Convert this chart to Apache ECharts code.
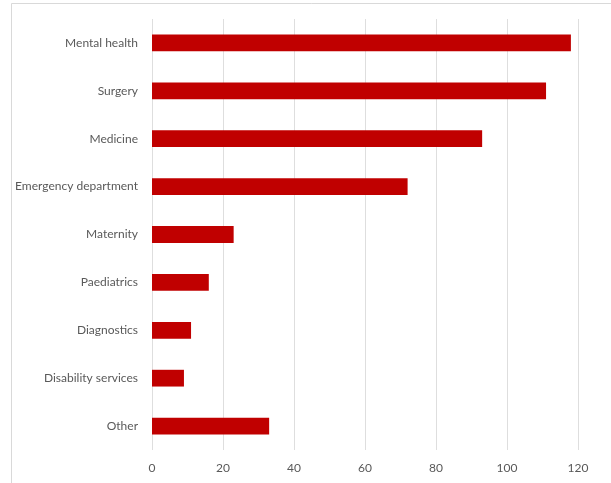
<!DOCTYPE html>
<html>
<head>
<meta charset="utf-8">
<script src="https://cdn.jsdelivr.net/npm/echarts@6/dist/echarts.min.js"></script>
<style>
  html, body { margin: 0; padding: 0; background: #ffffff; }
  #chart { width: 611px; height: 483px; }
</style>
</head>
<body>
<div id="chart"></div>
<script>
// Service areas, listed top to bottom
const categories = [
  'Mental health',
  'Surgery',
  'Medicine',
  'Emergency department',
  'Maternity',
  'Paediatrics',
  'Diagnostics',
  'Disability services',
  'Other'
];
// Count for each service area (same order as categories)
const values = [118, 111, 93, 72, 23, 16, 11, 9, 33];
// Value axis range and step
const axisMin = 0;
const axisMax = 120;
const axisStep = 20;

const chart = echarts.init(document.getElementById('chart'), null, { renderer: 'canvas' });

const labelFont = 'Lato, "Open Sans", "Noto Sans", sans-serif';

chart.setOption({
  animation: false,
  backgroundColor: '#ffffff',
  graphic: [{
    type: 'rect',
    left: 9,
    top: 1,
    shape: { width: 700, height: 600 },
    style: { fill: 'none', stroke: '#d9d9d9', lineWidth: 1 },
    silent: true,
    z: -10
  }],
  grid: {
    left: 152,
    right: 33,
    top: 19,
    bottom: 33,
    containLabel: false
  },
  xAxis: {
    type: 'value',
    min: axisMin,
    max: axisMax,
    interval: axisStep,
    axisLine: { show: false },
    axisTick: { show: false },
    splitLine: { show: true, lineStyle: { color: '#dedede', width: 1 } },
    axisLabel: {
      color: '#595959',
      fontFamily: labelFont,
      fontSize: 12,
      margin: 12
    }
  },
  yAxis: {
    type: 'category',
    data: categories,
    inverse: true,
    axisLine: { show: false },
    axisTick: { show: false },
    splitLine: { show: false },
    axisLabel: {
      color: '#595959',
      fontFamily: labelFont,
      fontSize: 12,
      margin: 14
    }
  },
  series: [{
    type: 'bar',
    data: values,
    barWidth: '35%',
    itemStyle: { color: '#c00000' },
    silent: true
  }]
});
</script>
</body>
</html>
